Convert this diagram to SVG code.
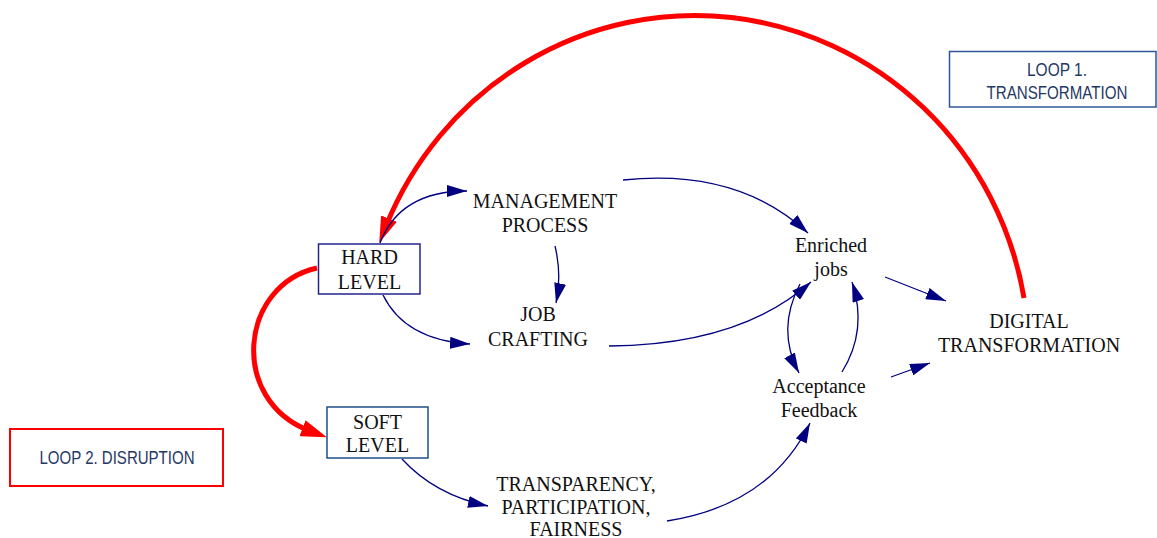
<svg xmlns="http://www.w3.org/2000/svg" width="1157" height="538" viewBox="0 0 1157 538">
  <style>
    .lbl { font-family: "Liberation Serif", "Times New Roman", serif; font-size: 20px; fill: #111; text-anchor: middle; }
    .loop { font-family: "Liberation Sans", Arial, sans-serif; font-size: 18px; fill: #1f3864; text-anchor: middle; }
    .box { fill: #fff; stroke-width: 1.5; }
    .link { fill: none; stroke: #000080; stroke-width: 1.3; marker-end: url(#ah-blue); }
    .loopline { fill: none; stroke: #ff0000; stroke-width: 5; marker-end: url(#ah-red); }
  </style>
  <defs>
    <marker id="ah-blue" viewBox="0 0 20 12" refX="20" refY="6" markerWidth="20" markerHeight="12" orient="auto" markerUnits="userSpaceOnUse">
      <path d="M0,0 L20,6 L0,12 Z" fill="#000080"/>
    </marker>
    <marker id="ah-red" viewBox="0 0 26 17" refX="8" refY="8.5" markerWidth="26" markerHeight="17" orient="auto" markerUnits="userSpaceOnUse">
      <path d="M0,0 L26,8.5 L0,17 Z" fill="#ff0000"/>
    </marker>
  </defs>

  <rect width="1157" height="538" fill="#fff"/>

  <!-- connectors -->
  <g id="connectors">
    <!-- feedback loops -->
    <path class="loopline" d="M1024,298 A334,340 0 0 0 386,226"/>
    <path class="loopline" d="M317,268 C240,285 228,400 310,431"/>
    <!-- causal links -->
    <path class="link" d="M380,243 Q400,191 467,191"/>
    <path class="link" d="M383,295 Q405,340 470,344"/>
    <path class="link" d="M555,246 Q562,275 556,303"/>
    <path class="link" d="M623,180 Q738,168 808,233"/>
    <path class="link" d="M609,346 Q740,345 811,282"/>
    <path class="link" d="M800,284 Q776,330 799,373"/>
    <path class="link" d="M842,372 Q868,330 852,282"/>
    <path class="link" d="M885,277 L946,301"/>
    <path class="link" d="M891,377 L930,363"/>
    <path class="link" d="M402,459 Q435,495 488,506"/>
    <path class="link" d="M667,521 Q770,505 810,423"/>
  </g>

  <g id="hard-level">
    <rect class="box" x="318.5" y="244" width="101.5" height="50" stroke="#24248f"/>
    <text class="lbl" x="369.5" y="264">HARD</text>
    <text class="lbl" x="369.5" y="289">LEVEL</text>
  </g>

  <g id="soft-level">
    <rect class="box" x="327" y="407" width="101" height="51" stroke="#1f4e89"/>
    <text class="lbl" x="377.5" y="429">SOFT</text>
    <text class="lbl" x="377.5" y="452">LEVEL</text>
  </g>

  <g id="management-process">
    <text class="lbl" x="545" y="208">MANAGEMENT</text>
    <text class="lbl" x="545" y="232">PROCESS</text>
  </g>

  <g id="job-crafting">
    <text class="lbl" x="538" y="321">JOB</text>
    <text class="lbl" x="538" y="345.5">CRAFTING</text>
  </g>

  <g id="enriched-jobs">
    <text class="lbl" x="831" y="251.5">Enriched</text>
    <text class="lbl" x="831" y="276">jobs</text>
  </g>

  <g id="acceptance-feedback">
    <text class="lbl" x="819" y="393">Acceptance</text>
    <text class="lbl" x="819" y="417">Feedback</text>
  </g>

  <g id="digital-transformation">
    <text class="lbl" x="1029" y="327.5">DIGITAL</text>
    <text class="lbl" x="1029" y="351.5">TRANSFORMATION</text>
  </g>

  <g id="transparency">
    <text class="lbl" x="576" y="491">TRANSPARENCY,</text>
    <text class="lbl" x="576" y="513.5">PARTICIPATION,</text>
    <text class="lbl" x="576" y="536">FAIRNESS</text>
  </g>

  <g id="loop-1">
    <rect x="949.5" y="51.5" width="206.5" height="55.5" fill="#fff" stroke="#2f5597" stroke-width="1.5"/>
    <text class="loop" x="1057" y="75.5" textLength="60" lengthAdjust="spacingAndGlyphs">LOOP 1.</text>
    <text class="loop" x="1057" y="98.5" textLength="141" lengthAdjust="spacingAndGlyphs">TRANSFORMATION</text>
  </g>

  <g id="loop-2">
    <rect x="10" y="429" width="213" height="57" fill="#fff" stroke="#ff0000" stroke-width="2"/>
    <text class="loop" x="117" y="464" textLength="155" lengthAdjust="spacingAndGlyphs">LOOP 2. DISRUPTION</text>
  </g>
</svg>
